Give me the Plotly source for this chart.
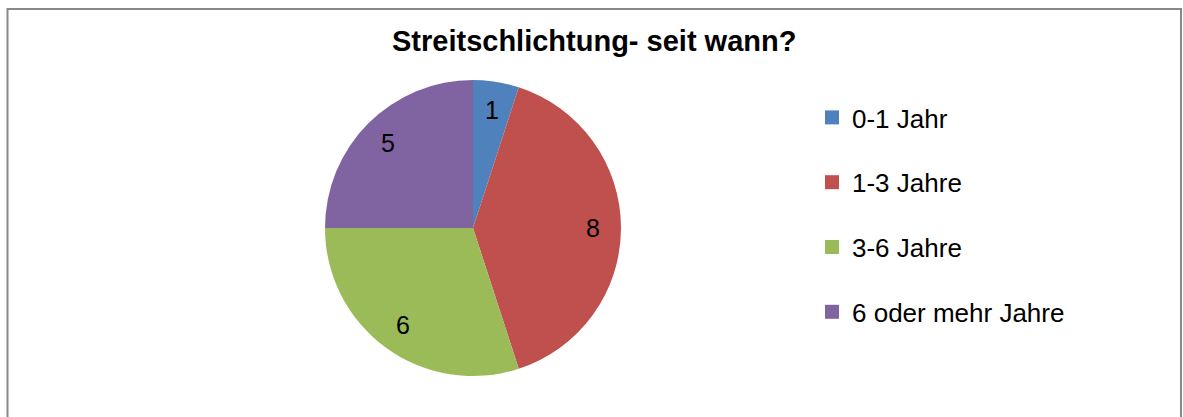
import math
import plotly.graph_objects as go

labels = ["0-1 Jahr", "1-3 Jahre", "3-6 Jahre", "6 oder mehr Jahre"]
values = [1, 8, 6, 5]
colors = ["#4F81BD", "#C0504D", "#9BBB59", "#8064A2"]
title = "Streitschlichtung- seit wann?"

W, H = 1183, 417
FONT = "Arial, Liberation Sans, sans-serif"

# pie geometry (pixels)
cx, cy, R = 473, 228, 148

fig = go.Figure()
fig.add_trace(go.Pie(
    labels=labels, values=values, sort=False, direction="clockwise", rotation=0,
    marker=dict(colors=colors, line=dict(width=0)),
    textinfo="none", hoverinfo="label+value", showlegend=False,
    domain=dict(x=[(cx - R) / W, (cx + R) / W], y=[1 - (cy + R) / H, 1 - (cy - R) / H]),
))

# data labels at ~0.81 R along each slice's mid-angle
total = sum(values)
cum = 0
annotations = []
for v in values:
    mid = (cum + v / 2) / total * 2 * math.pi
    cum += v
    px = cx + 0.81 * R * math.sin(mid)
    py = cy - 0.81 * R * math.cos(mid)
    annotations.append(dict(x=px / W, y=1 - py / H, xref="paper", yref="paper",
                            xanchor="center", yanchor="middle",
                            text=str(v), showarrow=False,
                            font=dict(family=FONT, size=25, color="#000000")))

annotations.append(dict(x=593.5 / W, y=1 - 41 / H, xref="paper", yref="paper",
                        xanchor="center", yanchor="middle",
                        text="<b>" + title + "</b>", showarrow=False,
                        font=dict(family=FONT, size=29, color="#000000")))

# legend via dummy traces (to allow spacing between entries)
for lab, col in zip(labels, colors):
    fig.add_trace(go.Scatter(x=[None], y=[None], mode="markers", name=lab,
                             legendgroup=lab,
                             marker=dict(symbol="square", size=14, color=col)))

fig.update_layout(
    width=W, height=H, margin=dict(l=0, r=0, t=0, b=0),
    paper_bgcolor="white", plot_bgcolor="white",
    xaxis=dict(visible=False), yaxis=dict(visible=False),
    annotations=annotations,
    legend=dict(x=812 / W, y=1 - 94 / H, xanchor="left", yanchor="top",
                traceorder="grouped", tracegroupgap=28, itemwidth=30,
                font=dict(family=FONT, size=26, color="#000000"),
                bgcolor="rgba(0,0,0,0)"),
    shapes=[dict(type="rect", xref="paper", yref="paper",
                 x0=7.5 / W, x1=1181 / W, y0=-0.2, y1=1 - 9 / H,
                 line=dict(color="#888888", width=2))],
)

fig.write_html("out.html")
